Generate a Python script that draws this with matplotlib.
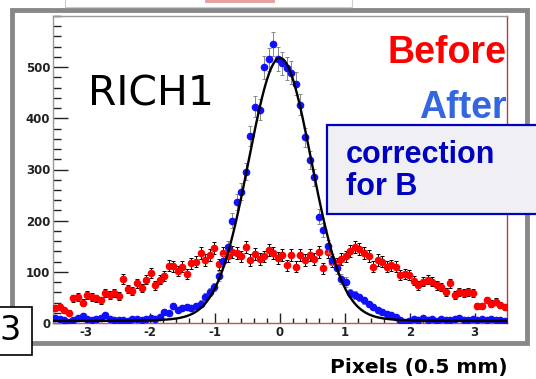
import numpy as np
import matplotlib
matplotlib.use("Agg")
import matplotlib.pyplot as plt
from matplotlib.patches import Rectangle
from matplotlib.ticker import MultipleLocator, FixedLocator

plt.rcParams["axes.unicode_minus"] = False

# histogram binning: 100 bins from -3.5 to 3.5
x_lo, x_hi, n_bins = -3.5, 3.5, 100

# "before" correction (red)
before = [29, 32, 25, 20, 48, 51, 40, 55, 51, 48, 44, 59, 55, 58, 53, 86, 66, 63, 78, 68,
          85, 97, 74, 85, 92, 112, 111, 102, 110, 96, 117, 120, 136, 123, 133, 147, 115, 136, 130, 138,
          136, 130, 149, 123, 135, 125, 130, 143, 136, 127, 133, 113, 133, 110, 133, 123, 133, 125, 138, 107,
          138, 120, 117, 125, 130, 140, 149, 144, 136, 131, 110, 123, 120, 110, 113, 110, 94, 96, 94, 83,
          74, 81, 85, 81, 74, 70, 61, 78, 55, 61, 59, 61, 59, 33, 33, 45, 38, 42, 35, 32]

# "after" correction (blue)
after = [9, 8, 5, 2, 6, 10, 14, 7, 5, 8, 10, 15, 7, 6, 5, 6, 4, 7, 8, 6,
         7, 9, 8, 12, 22, 19, 33, 26, 30, 31, 29, 34, 38, 51, 60, 70, 92, 122, 149, 200,
         237, 257, 296, 365, 423, 417, 500, 515, 546, 516, 508, 498, 489, 468, 427, 363, 318, 285, 208, 182,
         150, 124, 107, 86, 80, 58, 55, 50, 44, 37, 31, 25, 22, 18, 15, 12, 6, 2, 4, 8,
         5, 9, 6, 7, 4, 8, 6, 5, 7, 9, 6, 5, 8, 6, 7, 5, 8, 6, 5, 4]

# fit to the "after" distribution (narrow gaussian + wide gaussian + constant)
fit_amp, fit_mean, fit_sigma = 500, 0.0, 0.48
fit_amp2, fit_sigma2, fit_const = 14, 0.9, 4

xticks = [-3, -2, -1, 0, 1, 2, 3]
yticks = [0, 100, 200, 300, 400, 500]

W, H = 536, 379


def fx(px):
    return px / W


def fy(py):
    return 1 - py / H


edges = np.linspace(x_lo, x_hi, n_bins + 1)
centers = 0.5 * (edges[:-1] + edges[1:])
before = np.array(before, dtype=float)
after = np.array(after, dtype=float)

fig = plt.figure(figsize=(W / 100, H / 100), dpi=100)

# outer grey frame of the canvas
fig.patches.append(Rectangle((fx(12), fy(343)), fx(527) - fx(12), fy(10) - fy(343),
                             transform=fig.transFigure, fill=False,
                             edgecolor="#888888", linewidth=3.5, zorder=0))
# white strip pasted over the top
fig.patches.append(Rectangle((fx(65), fy(7)), fx(352) - fx(65), fy(-2) - fy(7),
                             transform=fig.transFigure, facecolor="white",
                             edgecolor="#cccccc", linewidth=0.8, zorder=1))
fig.patches.append(Rectangle((fx(205), fy(3)), fx(275) - fx(205), fy(-2) - fy(3),
                             transform=fig.transFigure, facecolor="#e8a0a0",
                             edgecolor="none", zorder=2))

ax = fig.add_axes([fx(53), fy(323), fx(507) - fx(53), fy(16) - fy(323)])

ax.errorbar(centers, before, yerr=np.sqrt(before), fmt="o", color="#ff0000",
            markersize=4.5, ecolor="black", elinewidth=0.7, capsize=1.5,
            capthick=0.7, zorder=3)
ax.errorbar(centers, after, yerr=np.sqrt(after), fmt="o", color="#1010ff",
            markersize=4.5, ecolor="#888888", elinewidth=0.7, capsize=1.5,
            capthick=0.7, zorder=4)

xf = np.linspace(x_lo, x_hi, 600)
yf = (fit_amp * np.exp(-0.5 * ((xf - fit_mean) / fit_sigma) ** 2)
      + fit_amp2 * np.exp(-0.5 * ((xf - fit_mean) / fit_sigma2) ** 2) + fit_const)
ax.plot(xf, yf, color="black", linewidth=1.7, zorder=5)

ax.set_xlim(x_lo, x_hi)
ax.set_ylim(0, 600)
ax.xaxis.set_major_locator(FixedLocator(xticks))
ax.xaxis.set_minor_locator(MultipleLocator(0.2))
ax.yaxis.set_major_locator(FixedLocator(yticks))
ax.yaxis.set_minor_locator(MultipleLocator(20))
ax.tick_params(axis="both", which="both", direction="in", top=False, right=False,
               colors="#222222", width=1)
ax.tick_params(axis="y", which="major", length=11, pad=2)
ax.tick_params(axis="y", which="minor", length=6)
ax.tick_params(axis="x", which="major", length=7, pad=2)
ax.tick_params(axis="x", which="minor", length=3.5)
for lab in ax.get_xticklabels() + ax.get_yticklabels():
    lab.set_fontfamily("DejaVu Sans")
    lab.set_fontweight("bold")
    lab.set_fontsize(8.5)
ax.spines["left"].set_color("#999999")
ax.spines["top"].set_color("#999999")
ax.spines["bottom"].set_color("#d05050")
ax.spines["right"].set_color("#b04040")
for s in ax.spines.values():
    s.set_linewidth(1)

# annotations
fig.text(fx(88), fy(105), "RICH1", fontsize=29.5, family="DejaVu Sans",
         ha="left", va="baseline", color="black")
fig.text(fx(507), fy(63), "Before", fontsize=27, family="Liberation Sans",
         fontweight="bold", ha="right", va="baseline", color="#ff0000")
fig.text(fx(507), fy(118), "After", fontsize=27, family="Liberation Sans",
         fontweight="bold", ha="right", va="baseline", color="#3366e0")

fig.patches.append(Rectangle((fx(327), fy(214)), fx(545) - fx(327), fy(125) - fy(214),
                             transform=fig.transFigure, facecolor="#f0f0f4",
                             edgecolor="#0000c0", linewidth=1.6, zorder=6))
fig.text(fx(346), fy(163), "correction", fontsize=22, family="Liberation Sans",
         fontweight="bold", ha="left", va="baseline", color="#0000c0", zorder=7)
fig.text(fx(346), fy(195), "for B", fontsize=22, family="Liberation Sans",
         fontweight="bold", ha="left", va="baseline", color="#0000c0", zorder=7)

# box with the cut-off label at lower left
fig.patches.append(Rectangle((fx(-5), fy(355)), fx(32) + 5 / W, fy(307) - fy(355),
                             transform=fig.transFigure, facecolor="white",
                             edgecolor="black", linewidth=1.2, zorder=6))
fig.text(fx(10), fy(331), "3", fontsize=24, family="DejaVu Sans",
         ha="center", va="center", color="black", zorder=7)

fig.text(fx(419), fy(368), "Pixels (0.5 mm)", fontsize=14.5, family="DejaVu Sans",
         fontweight="bold", ha="center", va="center", color="black")

fig.savefig("out.png", dpi=100)
